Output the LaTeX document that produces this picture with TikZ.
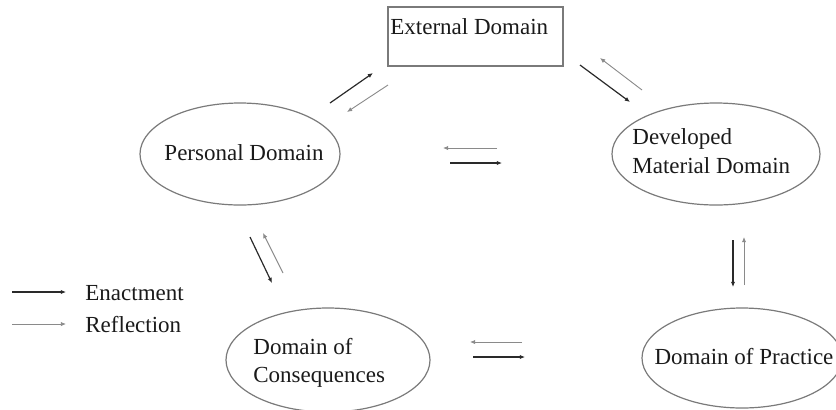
\documentclass[tikz,border=0pt]{standalone}
\usepackage{fontspec}
\setmainfont{Liberation Serif}
\usetikzlibrary{arrows.meta,shapes.geometric}
\definecolor{edgegray}{HTML}{7A7A7A}
\definecolor{enactcol}{HTML}{2A2A2A}
\definecolor{reflcol}{HTML}{8A8A8A}
\definecolor{txtcol}{HTML}{1A1A1A}
\tikzset{
  domellipse/.style={ellipse, draw=edgegray, line width=0.6pt, inner sep=0pt,
    minimum width=102pt, minimum height=51pt},
  lbl/.style={inner sep=0pt, text=txtcol, font=\fontsize{11.5}{14}\selectfont},
  enact/.style={draw=enactcol, line width=0.6pt, -{Latex[length=2.6pt,width=2.2pt]}},
  reflect/.style={draw=reflcol, line width=0.45pt, -{Latex[length=2.6pt,width=2.2pt]}},
}
\begin{document}
\begin{tikzpicture}[x=0.5pt,y=-0.5pt]
\useasboundingbox (0,0) rectangle (836,409);
% External domain box
\node[draw=edgegray, line width=0.7pt, minimum width=87.5pt, minimum height=29.5pt, inner sep=0pt] (ext) at (475.5,36.5) {};
\node[lbl, anchor=west] (extlbl) at (390,27) {External Domain};
% Ellipses
\node[domellipse, minimum width=100pt] (pers) at (240,154) {};
\node[domellipse, minimum width=104pt] (dev) at (716,154) {};
\node[domellipse, minimum width=102pt, minimum height=52pt] (cons) at (328,360) {};
\node[domellipse, minimum width=100pt, minimum height=50pt] (prac) at (742,358) {};
% ellipse labels
\node[lbl] (perslbl) at (244,153) {Personal Domain};
\node[lbl, anchor=west] (devlbl1) at (632,139) {Developed};
\node[lbl, anchor=west] (devlbl2) at (632,166) {Material Domain};
\node[lbl, anchor=west] (conslbl1) at (253,347) {Domain of};
\node[lbl, anchor=west] (conslbl2) at (253,377) {Consequences};
\node[lbl] (praclbl) at (744,357) {Domain of Practice};
% arrow end coordinates
\coordinate (a1s) at (330,103); \coordinate (a1e) at (373,73);
\coordinate (b1s) at (388,85);  \coordinate (b1e) at (347,112);
\coordinate (a2s) at (580,65);  \coordinate (a2e) at (630,102);
\coordinate (b2s) at (642,90);  \coordinate (b2e) at (600,58);
\coordinate (a3s) at (450,163); \coordinate (a3e) at (502,163);
\coordinate (b3s) at (497,148); \coordinate (b3e) at (443,148);
\coordinate (a4s) at (733,240); \coordinate (a4e) at (733,287);
\coordinate (b4s) at (744,285); \coordinate (b4e) at (744,237);
\coordinate (a5s) at (250,237); \coordinate (a5e) at (272,283);
\coordinate (b5s) at (283,273); \coordinate (b5e) at (263,233);
\coordinate (a6s) at (473,357); \coordinate (a6e) at (525,357);
\coordinate (b6s) at (522,342); \coordinate (b6e) at (470,342);
\draw[enact] (a1s) -- (a1e);
\draw[reflect] (b1s) -- (b1e);
\draw[enact] (a2s) -- (a2e);
\draw[reflect] (b2s) -- (b2e);
\draw[enact] (a3s) -- (a3e);
\draw[reflect] (b3s) -- (b3e);
\draw[enact] (a4s) -- (a4e);
\draw[reflect] (b4s) -- (b4e);
\draw[enact] (a5s) -- (a5e);
\draw[reflect] (b5s) -- (b5e);
\draw[enact] (a6s) -- (a6e);
\draw[reflect] (b6s) -- (b6e);
% legend
\coordinate (l1s) at (12,292); \coordinate (l1e) at (66,292);
\coordinate (l2s) at (12,324); \coordinate (l2e) at (66,324);
\draw[enact] (l1s) -- (l1e);
\draw[reflect] (l2s) -- (l2e);
\node[lbl, anchor=west] (enlbl) at (85,293) {Enactment};
\node[lbl, anchor=west] (relbl) at (85,325) {Reflection};
\end{tikzpicture}
\end{document}
